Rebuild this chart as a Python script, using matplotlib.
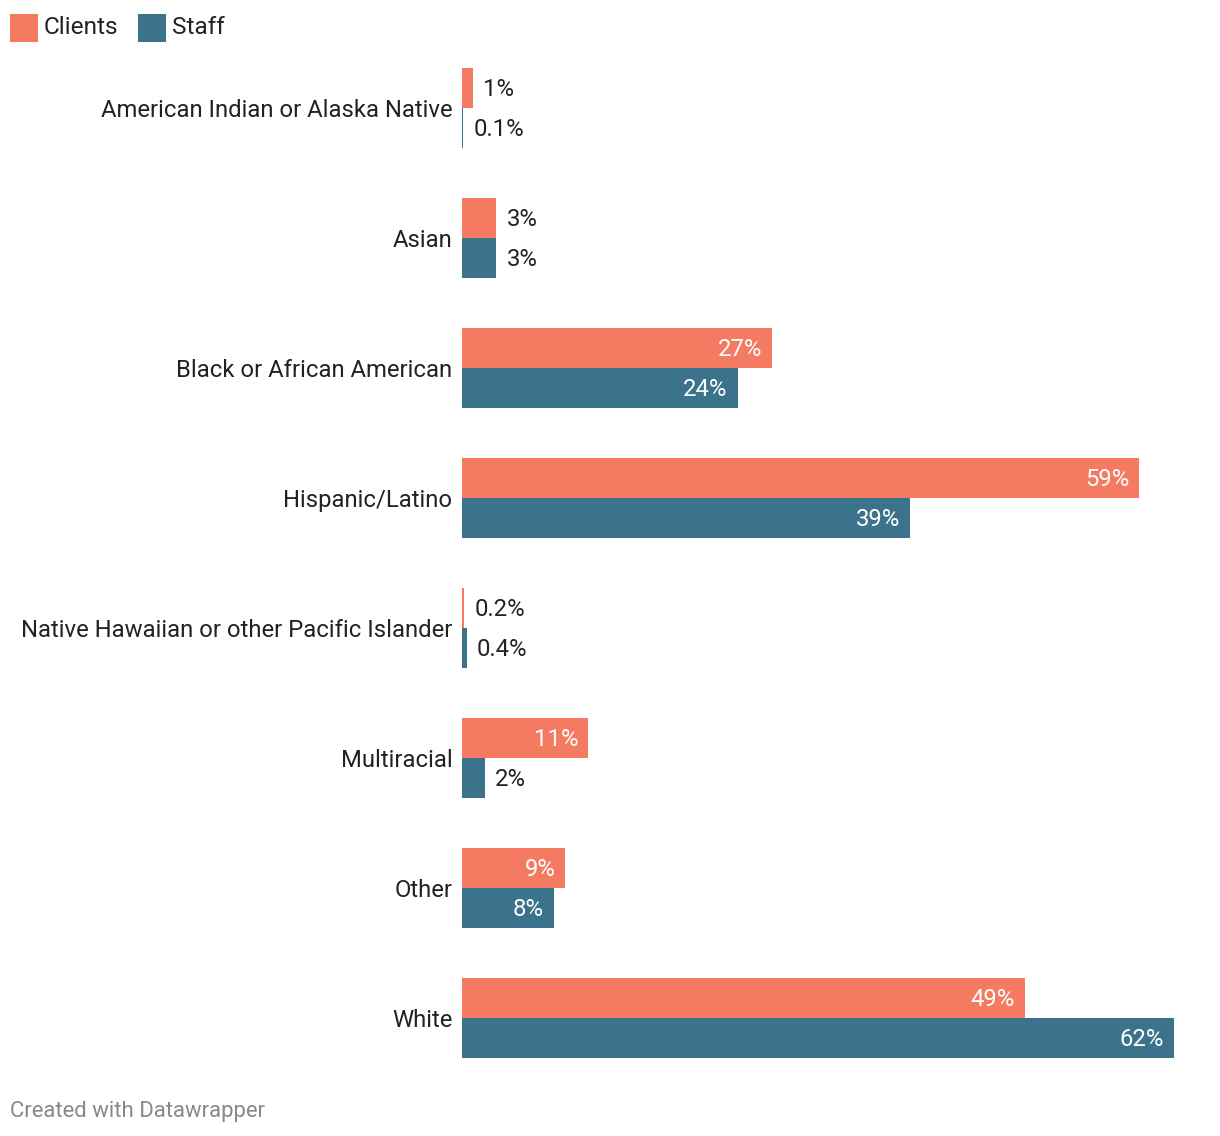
import matplotlib
matplotlib.use('Agg')
import matplotlib.pyplot as plt
from matplotlib.patches import Rectangle
import numpy as np

plt.rcParams['font.family'] = ['Roboto', 'DejaVu Sans']

# data
categories = ['American Indian or Alaska Native', 'Asian',
              'Black or African American', 'Hispanic/Latino',
              'Native Hawaiian or other Pacific Islander', 'Multiracial',
              'Other', 'White']
clients = [1, 3, 27, 59, 0.2, 11, 9, 49]
staff = [0.1, 3, 24, 39, 0.4, 2, 8, 62]
clients_labels = ['1%', '3%', '27%', '59%', '0.2%', '11%', '9%', '49%']
staff_labels = ['0.1%', '3%', '24%', '39%', '0.4%', '2%', '8%', '62%']

c_orange = '#f47b61'
c_blue = '#3b738c'
c_text = '#222222'

W, H = 1220, 1136
fig = plt.figure(figsize=(W / 100, H / 100), dpi=100)

# axes in pixel layout: bars start at x=462, top 68, bottom 1058
px_per_pct = 11.48
ax = fig.add_axes([462 / W, 1 - 1058 / H, (W - 462) / W, (1058 - 68) / H])
ax.set_xlim(0, (W - 462) / px_per_pct)
bh = 40 / 130
ax.set_ylim(len(categories) - 1 + bh, -bh)

y = np.arange(len(categories))
ax.barh(y - bh / 2, clients, height=bh, color=c_orange, linewidth=0)
ax.barh(y + bh / 2, staff, height=bh, color=c_blue, linewidth=0)

pad = 10 / px_per_pct
nudge = 1.5 / 130  # small downward shift of value labels
for i in range(len(categories)):
    for val, lab, yy in ((clients[i], clients_labels[i], y[i] - bh / 2),
                         (staff[i], staff_labels[i], y[i] + bh / 2)):
        if val >= 7:
            ax.text(val - pad, yy + nudge, lab, ha='right', va='center',
                    color='white', fontsize=17.2)
        else:
            ax.text(val + pad, yy + nudge, lab, ha='left', va='center',
                    color=c_text, fontsize=17.2)

ax.set_yticks(y)
ax.set_yticklabels(categories, fontsize=17.2, color=c_text)
ax.tick_params(axis='y', length=0, pad=7)
ax.set_xticks([])
for s in ax.spines.values():
    s.set_visible(False)

# legend
fig.add_artist(Rectangle((10 / W, 1 - 42 / H), 28 / W, 28 / H,
                         transform=fig.transFigure, color=c_orange, lw=0))
fig.text(44 / W, 1 - 27 / H, 'Clients', ha='left', va='center',
         fontsize=17.6, color=c_text)
fig.add_artist(Rectangle((138 / W, 1 - 42 / H), 28 / W, 28 / H,
                         transform=fig.transFigure, color=c_blue, lw=0))
fig.text(172 / W, 1 - 27 / H, 'Staff', ha='left', va='center',
         fontsize=17.6, color=c_text)

# footer
fig.text(10 / W, 1 - 1111 / H, 'Created with Datawrapper', ha='left',
         va='center', fontsize=15.9, color='#888888')

fig.savefig('out.png', dpi=100)
